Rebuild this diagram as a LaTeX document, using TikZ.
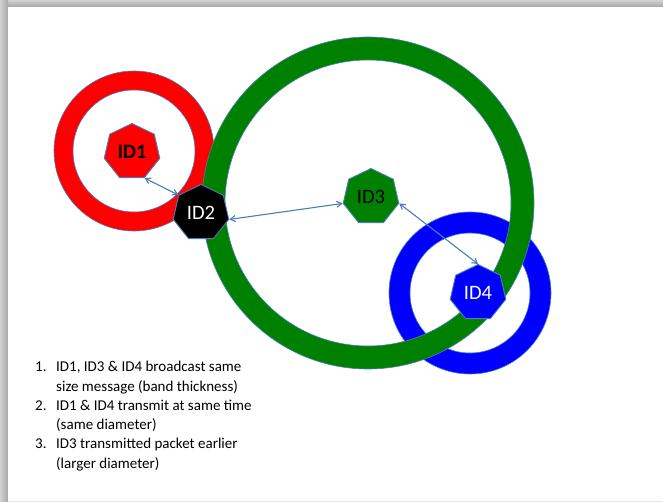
\documentclass[tikz,border=0pt]{standalone}
\usepackage{fontspec}
\setmainfont{Carlito}
\usetikzlibrary{shapes.geometric,arrows.meta,positioning}
\definecolor{edgeblue}{HTML}{4A7EBB}
\definecolor{ringgreen}{HTML}{008000}

\begin{document}
\begin{tikzpicture}[x=1pt,y=-1pt,
    hepta/.style={regular polygon, regular polygon sides=7, minimum size=57pt,
      inner sep=0pt, draw=edgeblue, line width=0.9pt,
      font=\fontsize{20.5}{24}\selectfont},
    band/.style={draw=edgeblue, line width=0.6pt, even odd rule},
    link/.style={<->, >={Straight Barb[length=5pt,width=6pt]},
      color=edgeblue, line width=1.1pt}]
  \useasboundingbox (0,0) rectangle (663,502);

  % slide and its shadow
  \shade[top color=gray!35, bottom color=gray!70] (0,0) rectangle (663,7);
  \shade[left color=gray!35, right color=gray!70] (0,0) rectangle (8,502);
  \fill[white] (8,7) rectangle (663,501);
  \draw[gray!20] (8,501) -- (663,501);

  % rings
  \coordinate (c1) at (134,151);
  \coordinate (c3) at (368,203);
  \coordinate (c4) at (470,293);
  \path[band, fill=red]        (c1) circle (80)  (c1) circle (61);
  \path[band, fill=blue]       (c4) circle (81)  (c4) circle (60);
  \path[band, fill=ringgreen]  (c3) circle (166) (c3) circle (143);

  % nodes
  \node[hepta, fill=red, font=\fontsize{20.5}{24}\selectfont\bfseries] (id1) at (132,152) {ID1};
  \node[hepta, fill=black, text=white] (id2) at (201,213) {ID2};
  \node[hepta, fill=ringgreen]         (id3) at (371,197) {ID3};
  \node[hepta, fill=blue, text=white]  (id4) at (478,293) {ID4};

  \path[link]
  (id1.corner 5) edge (id2.corner 2)
  (id2.corner 6) edge (id3.corner 3)
  (id3.corner 6) edge (id4.corner 1);

  % notes
  \node[anchor=base west, inner sep=0pt] (notes) at (35,371.7)
  {\parbox[t]{300pt}{\fontsize{15}{19.3}\selectfont
    \makebox[21pt][l]{1.}ID1, ID3 \& ID4 broadcast same\\
    \hspace*{21pt}size message (band thickness)\\
    \makebox[21pt][l]{2.}ID1 \& ID4 transmit at same time\\
    \hspace*{21pt}(same diameter)\\
    \makebox[21pt][l]{3.}ID3 transmitted packet earlier\\
    \hspace*{21pt}(larger diameter)}};
\end{tikzpicture}
\end{document}
